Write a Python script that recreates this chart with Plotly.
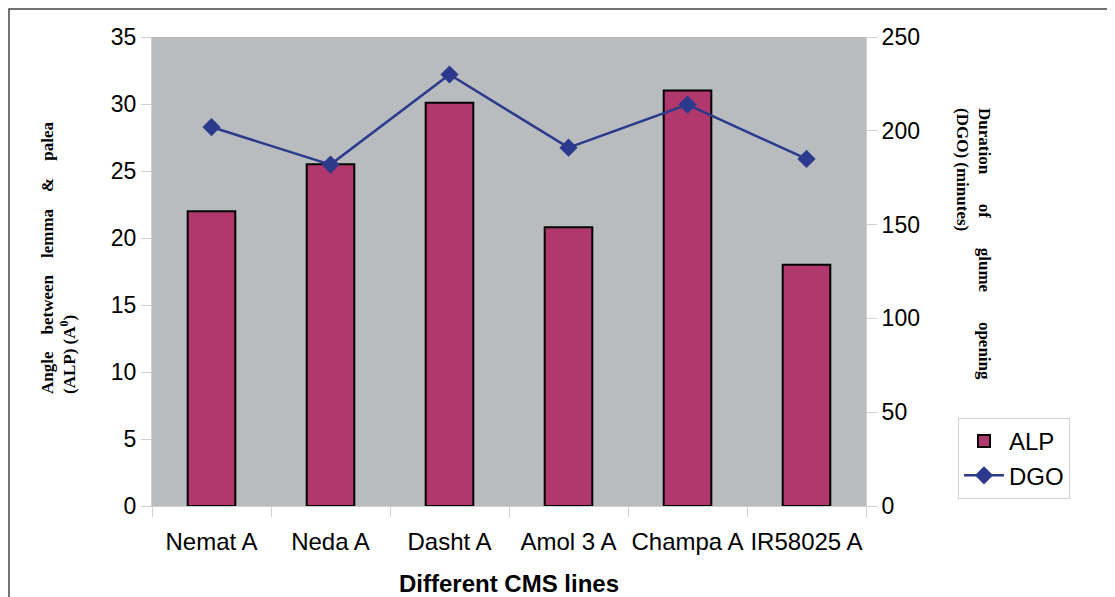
import plotly.graph_objects as go

categories = ["Nemat A", "Neda A", "Dasht A", "Amol 3 A", "Champa A", "IR58025 A"]
alp_values = [22.0, 25.5, 30.1, 20.8, 31.0, 18.0]
dgo_values = [202, 182, 230, 191, 214, 185]

# page body has an 8px margin, so the figure is laid out in shifted coordinates
OFF = 8
W, H = 1115 - OFF, 597 - OFF
L, R, T, B = 152 - OFF, 866 - OFF, 37 - OFF, 506 - OFF


def px(xp):
    return (xp - OFF - L) / (R - L)


def py(yp):
    return (B - (yp - OFF)) / (B - T)


fig = go.Figure()
fig.add_trace(go.Bar(
    x=categories, y=alp_values, name="ALP",
    marker=dict(color="#B0386C", line=dict(color="black", width=2)),
    yaxis="y",
))
fig.add_trace(go.Scatter(
    x=categories, y=dgo_values, name="DGO", mode="lines+markers",
    line=dict(color="#2B3A8C", width=2.5),
    marker=dict(symbol="diamond", size=14, color="#2B3A8C"),
    yaxis="y2",
))

sans = "Liberation Sans, Arial"
tickfont = dict(family=sans, size=23, color="black")
catfont = dict(family=sans, size=24, color="black")
fig.update_layout(
    width=W, height=H,
    margin=dict(l=L, r=W - R, t=T, b=H - B, pad=0, autoexpand=False),
    paper_bgcolor="white",
    plot_bgcolor="#B8BCBF",
    bargap=0.6,
    showlegend=True,
    legend=dict(
        x=px(958), y=py(418),
        xanchor="left", yanchor="top",
        bgcolor="white", bordercolor="#D0D0D0", borderwidth=1,
        font=dict(family=sans, size=24, color="black"),
        itemwidth=40, tracegroupgap=2,
    ),
    xaxis=dict(
        tickfont=catfont, tickangle=0, automargin=False,
        showgrid=False, showline=True, linecolor="#D0D0D0",
        tickson="boundaries", ticks="outside", ticklen=10, tickcolor="#D0D0D0",
        ticklabelstandoff=14,
        title=dict(text="<b>Different CMS lines</b>",
                   font=dict(family=sans, size=24, color="black"),
                   standoff=22),
    ),
    yaxis=dict(
        range=[0, 35], dtick=5, tickfont=tickfont, showgrid=False, automargin=False,
        showline=True, linecolor="#D0D0D0", ticks="outside", ticklen=10,
        tickcolor="#D0D0D0", zeroline=False,
    ),
    yaxis2=dict(
        range=[0, 250], dtick=50, tickfont=tickfont, showgrid=False, automargin=False,
        overlaying="y", side="right",
        showline=True, linecolor="#D0D0D0", ticks="outside", ticklen=10,
        tickcolor="#D0D0D0", zeroline=False,
    ),
)

s4 = "&nbsp;" * 4
s7 = "&nbsp;" * 7
left_title = ("<b>Angle" + s4 + "between" + s4 + "lemma" + s4 + "&amp;" + s4 + "palea</b><br>"
              "<b>(ALP) (A<sup>0</sup>)</b>")
right_title = ("<b>Duration" + s7 + "of" + s7 + "glume" + s7 + "opening</b><br>"
               "<b>(DGO) (minutes)</b>")
titlefont = dict(family="Liberation Serif, Times New Roman", size=17, color="black")

fig.add_annotation(
    text=left_title, textangle=-90, align="left",
    xref="paper", yref="paper",
    x=px(58), y=py(396),
    xanchor="center", yanchor="bottom", showarrow=False, font=titlefont,
)
fig.add_annotation(
    text=right_title, textangle=90, align="left",
    xref="paper", yref="paper",
    x=px(974), y=py(106),
    xanchor="center", yanchor="top", showarrow=False, font=titlefont,
)

fig.add_shape(
    type="rect", xref="paper", yref="paper",
    x0=px(9), x1=px(1300),
    y0=py(800), y1=py(9),
    line=dict(color="#444444", width=1.5), fillcolor="rgba(0,0,0,0)", layer="below",
)

fig.write_html("out.html")
